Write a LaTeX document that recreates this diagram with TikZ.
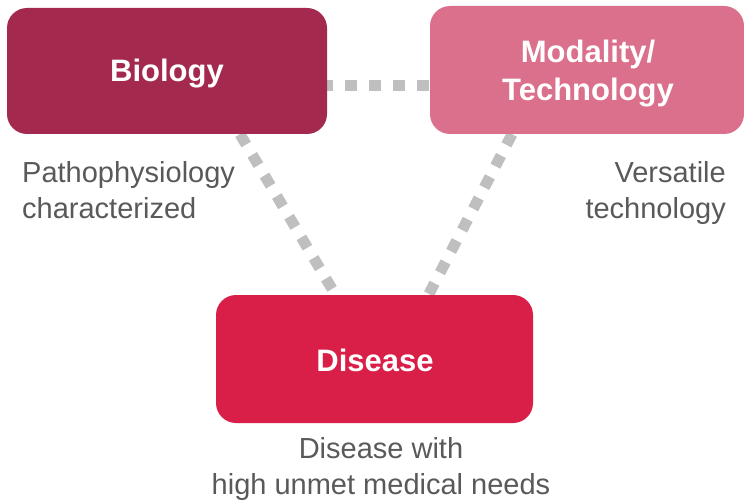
\documentclass[tikz,border=0pt]{standalone}
\usepackage{fontspec}
\setmainfont{Liberation Sans}
\usetikzlibrary{backgrounds,calc}
\definecolor{biocol}{HTML}{A4294E}
\definecolor{modcol}{HTML}{DB708C}
\definecolor{discol}{HTML}{D91E48}
\definecolor{txtcol}{HTML}{595959}
\definecolor{dashcol}{HTML}{BFBFBF}
\begin{document}
\begin{tikzpicture}[x=1pt,y=-1pt,
  box/.style={rounded corners=20pt, inner sep=0pt, draw=none},
  boxtext/.style={text=white, inner sep=0pt, font=\fontsize{31}{38}\selectfont\bfseries, align=center},
  note/.style={text=txtcol, inner sep=0pt, font=\fontsize{29}{36}\selectfont},
  link/.style={draw=dashcol, line width=11pt, dash pattern=on 12pt off 12pt}]
\useasboundingbox (0,0) rectangle (744,500);
\node[box, fill=biocol, minimum width=320pt, minimum height=126pt] (bio) at (167,71) {};
\node[box, fill=modcol, minimum width=314pt, minimum height=128pt] (mod) at (587,70) {};
\node[box, fill=discol, minimum width=317pt, minimum height=128pt] (dis) at (374.5,359) {};
\node[boxtext, anchor=base] (biot) at (167,82) {Biology};
\node[boxtext, anchor=north] (modt) at (588,39.5) {Modality/\\Technology};
\node[boxtext, anchor=base] (dist) at (375,371) {Disease};
\node[note, anchor=north west, align=left] (bion) at (22,161) {Pathophysiology\\characterized};
\node[note, anchor=north east, align=right] (modn) at (726,161) {Versatile\\technology};
\node[note, anchor=north, align=center] (disn) at (381,437) {Disease with\\high unmet medical needs};
\begin{pgfonlayer}{background}
\draw[link, dash phase=3pt] ([xshift=-3pt,yshift=-14.5pt]bio.east) -- ([yshift=-15.5pt]mod.west);
\draw[link] ([xshift=73pt]bio.south) -- ([xshift=-39pt]dis.north);
\draw[link] ([xshift=-75pt]mod.south) -- ([xshift=54pt]dis.north);
\end{pgfonlayer}
\end{tikzpicture}
\end{document}
